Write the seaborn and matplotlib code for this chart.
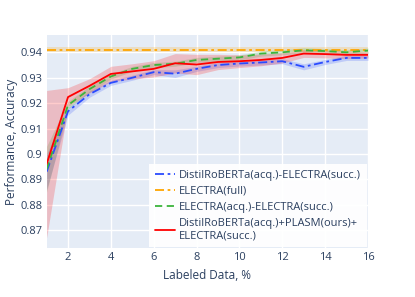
import numpy as np
import pandas as pd
import matplotlib
matplotlib.use("Agg")
import matplotlib.pyplot as plt
import seaborn as sns

# labeled data share, %
labeled = list(range(1, 17))

# DistilRoBERTa(acq.)-ELECTRA(succ.)
distil_acc = [0.893, 0.9168, 0.9235, 0.928, 0.930, 0.9322, 0.9316, 0.9335, 0.935, 0.9356,
              0.936, 0.9365, 0.9343, 0.9362, 0.9378, 0.9378]
distil_std = [0.007, 0.0015, 0.0012, 0.001, 0.001, 0.001, 0.0015, 0.001, 0.001, 0.001,
              0.001, 0.001, 0.0012, 0.001, 0.001, 0.001]

# ELECTRA(full)
full_x = [1, 16]
full_acc = [0.9411, 0.9411]
full_std = [0.0008, 0.0008]

# ELECTRA(acq.)-ELECTRA(succ.)
electra_acc = [0.894, 0.9192, 0.9255, 0.9305, 0.9335, 0.935, 0.9355, 0.937, 0.9375, 0.938,
               0.9395, 0.940, 0.9408, 0.9405, 0.940, 0.9407]
electra_std = [0.009, 0.0015, 0.0012, 0.001, 0.001, 0.001, 0.001, 0.001, 0.001, 0.001,
               0.001, 0.001, 0.001, 0.001, 0.001, 0.001]

# DistilRoBERTa(acq.)+PLASM(ours)+ELECTRA(succ.)
plasm_acc = [0.896, 0.9224, 0.9268, 0.9315, 0.9325, 0.9335, 0.9357, 0.9352, 0.9362, 0.9365,
             0.937, 0.9378, 0.9395, 0.9393, 0.939, 0.939]
plasm_std = [0.029, 0.0037, 0.0028, 0.003, 0.003, 0.0032, 0.0038, 0.004, 0.003, 0.0025,
             0.0023, 0.002, 0.0015, 0.0015, 0.0015, 0.0012]

series = [
    ("DistilRoBERTa(acq.)-ELECTRA(succ.)", labeled, distil_acc, distil_std, "#2a4bff", (0, (5, 2, 1.5, 2))),
    ("ELECTRA(full)", full_x, full_acc, full_std, "#ffa500", (0, (5, 2, 1.5, 2))),
    ("ELECTRA(acq.)-ELECTRA(succ.)", labeled, electra_acc, electra_std, "#3cb43c", (0, (4, 2.5))),
    ("DistilRoBERTa(acq.)+PLASM(ours)+\nELECTRA(succ.)", labeled, plasm_acc, plasm_std, "#ff0000", "-"),
]

text_col = "#2a3f5f"
sns.set_theme(style="darkgrid", rc={
    "axes.facecolor": "#E5ECF6",
    "grid.color": "white",
    "grid.linewidth": 1.0,
    "axes.edgecolor": "none",
})
plt.rcParams["font.family"] = ["Open Sans", "DejaVu Sans"]

fig = plt.figure(figsize=(4.15, 2.97), dpi=100)
ax = fig.add_axes([0.1123, 0.165, 0.7744, 0.717])

for name, xs, ys, sd, col, ls in series:
    df = pd.DataFrame({"x": xs, "y": ys, "sd": sd})
    ax.fill_between(df["x"], df["y"] - df["sd"], df["y"] + df["sd"], color=col, alpha=0.2, linewidth=0)
    sns.lineplot(data=df, x="x", y="y", ax=ax, color=col, linestyle=ls, linewidth=1.3, label=name)

ax.set_xlim(1, 16)
ax.set_ylim(0.863, 0.9468)
ax.set_xticks(range(2, 17, 2))
yt = [0.87, 0.88, 0.89, 0.90, 0.91, 0.92, 0.93, 0.94]
ax.set_yticks(yt)
ax.set_yticklabels([f"{v:.2f}".rstrip("0") for v in yt])
ax.tick_params(axis="both", length=0, pad=3, labelsize=8, labelcolor=text_col)
ax.set_xlabel("Labeled Data, %", fontsize=8.5, color=text_col, labelpad=4)
ax.set_ylabel("Performance, Accuracy", fontsize=8.5, color=text_col, labelpad=2)

leg = ax.legend(loc="lower right", bbox_to_anchor=(1.0, 0.0), fontsize=8, frameon=True,
                fancybox=False, framealpha=0.95, edgecolor="none", facecolor="white",
                handlelength=1.8, borderpad=0.5, labelspacing=0.45, handletextpad=0.4,
                borderaxespad=0.1)
for t in leg.get_texts():
    t.set_color(text_col)

fig.savefig("out.png", dpi=100)
